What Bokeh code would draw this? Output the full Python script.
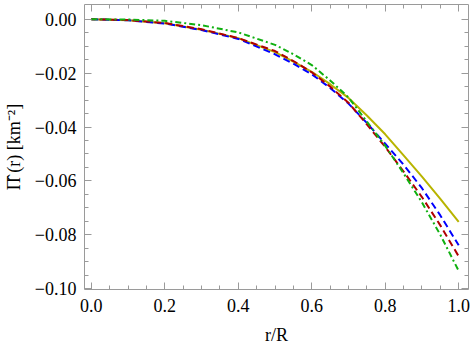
from bokeh.plotting import figure
from bokeh.models import LinearAxis, Range1d, CustomJSTickFormatter, FixedTicker, CustomLabelingPolicy
from bokeh.embed import file_html
from bokeh.resources import INLINE

r = [0.0, 0.1, 0.2, 0.3, 0.4, 0.5, 0.55, 0.6, 0.65, 0.7, 0.75, 0.8, 0.85, 0.9, 0.95, 1.0]
pi_yellow = [0.0, -0.0004, -0.0015, -0.0039, -0.0070, -0.0122, -0.0157, -0.0195, -0.0241, -0.0292, -0.0357, -0.0427, -0.0505, -0.0584, -0.0667, -0.0752]
pi_blue = [0.0, -0.0004, -0.0016, -0.0040, -0.0073, -0.0130, -0.0165, -0.0204, -0.0255, -0.0313, -0.0385, -0.0462, -0.0540, -0.0627, -0.0728, -0.0839]
pi_red = [0.0, -0.0003, -0.0014, -0.0037, -0.0070, -0.0118, -0.0155, -0.0197, -0.0250, -0.0310, -0.0390, -0.0474, -0.0565, -0.0660, -0.0765, -0.0880]
pi_green = [0.0, -0.0001, -0.0006, -0.0022, -0.0049, -0.0095, -0.0130, -0.0170, -0.0227, -0.0290, -0.0380, -0.0470, -0.0572, -0.0680, -0.0800, -0.0934]

x_major = [0.0, 0.2, 0.4, 0.6, 0.8, 1.0]
y_major = [0.0, -0.02, -0.04, -0.06, -0.08, -0.10]

FONT = "Liberation Serif"
FRAME = "#9a9a9a"

p = figure(width=474, height=354, output_backend="svg", toolbar_location=None,
           x_range=Range1d(-0.0187, 1.0267), y_range=Range1d(-0.1003, 0.00547),
           min_border_left=80, min_border_right=2, min_border_top=1, min_border_bottom=65,
           x_axis_label="r/R", y_axis_label="\u03a0\u0302 (r) [km\u207b\u00b2]")
p.outline_line_color = None
p.grid.visible = False
p.background_fill_color = "white"

p.line(r, pi_yellow, line_color="#b8b400", line_width=2)
p.line(r, pi_blue, line_color="#0000ff", line_width=2, line_dash="7 4")
p.line(r, pi_red, line_color="#b00000", line_width=2, line_dash="7 4", line_dash_offset=3)
p.line(r, pi_green, line_color="#10b010", line_width=2, line_dash="6 3 2 3")

xfmt = CustomJSTickFormatter(code="return tick.toFixed(1).replace('-', '\u2212');")
yfmt = CustomJSTickFormatter(code="var s = Math.abs(tick) < 1e-9 ? '0.00' : tick.toFixed(2); return s.replace('-', '\u2212');")

xt = FixedTicker(ticks=x_major, minor_ticks=[i * 0.05 for i in range(0, 21)])
yt = FixedTicker(ticks=y_major, minor_ticks=[-i * 0.005 for i in range(0, 21)])

hide_labels = CustomLabelingPolicy(code="""
try { for (const i of [...indices.ones()]) { indices.set(i, false); } } catch (e) {}
return indices;
""")

def style(ax, labels=True):
    ax.axis_line_color = FRAME
    ax.major_tick_line_color = FRAME
    ax.minor_tick_line_color = FRAME
    ax.major_tick_in = 7
    ax.major_tick_out = 0
    ax.minor_tick_in = 4
    ax.minor_tick_out = 0
    if labels:
        ax.major_label_text_font = FONT
        ax.major_label_text_font_size = "18px"
        ax.major_label_text_color = "black"
        ax.axis_label_text_font = FONT
        ax.axis_label_text_font_size = "18px"
        ax.axis_label_text_font_style = "normal"
        ax.axis_label_text_color = "black"
    else:
        ax.major_label_text_font_size = "1px"
        ax.major_label_standoff = 0
        ax.major_label_policy = hide_labels

xa = p.xaxis[0]
xa.ticker = xt
xa.formatter = xfmt
xa.major_label_standoff = 9
xa.axis_label_standoff = 10
style(xa)

ya = p.yaxis[0]
ya.ticker = yt
ya.formatter = yfmt
ya.major_label_standoff = 8
ya.axis_label_standoff = 8
style(ya)

top = LinearAxis(ticker=xt, formatter=xfmt)
style(top, labels=False)
p.add_layout(top, "above")
right = LinearAxis(ticker=yt, formatter=yfmt)
style(right, labels=False)
p.add_layout(right, "right")

open("out.html", "w").write(file_html(p, INLINE))
